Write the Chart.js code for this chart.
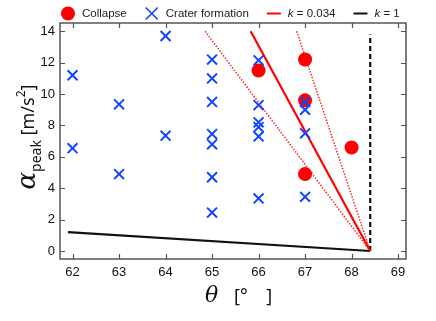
<!DOCTYPE html>
<html>
<head>
<meta charset="utf-8">
<script src="https://cdn.jsdelivr.net/npm/chart.js@4.4.0/dist/chart.umd.min.js"></script>
<style>
  html, body { margin: 0; padding: 0; background: #fff; }
  #wrap { width: 436px; height: 321px; }
</style>
</head>
<body>
<div id="wrap"><canvas id="chart"></canvas></div>
<script>
// Tick labels
const xTicks = [62, 63, 64, 65, 66, 67, 68, 69];
const yTicks = [0, 2, 4, 6, 8, 10, 12, 14];

// Collapse (red circles)
const collapseTheta = [66, 67, 67, 67, 68];
const collapseAccel = [11.5, 12.2, 9.6, 4.9, 6.6];

// Crater formation (blue crosses)
const craterTheta = [62, 62, 63, 63, 64, 64,
  65, 65, 65, 65, 65, 65, 65,
  66, 66, 66, 66, 66, 66,
  67, 67, 67, 67];
const craterAccel = [11.2, 6.55, 9.35, 4.9, 13.7, 7.35,
  12.2, 11.0, 9.5, 7.45, 6.8, 4.7, 2.45,
  12.15, 9.3, 8.2, 7.9, 7.3, 3.35,
  9.5, 9.0, 7.5, 3.45];

// Boundary lines
const kRedTheta = [65.83, 68.4];
const kRedAccel = [14, 0];
const dotUpperTheta = [66.82, 68.4];
const dotUpperAccel = [14, 0];
const dotLowerTheta = [64.85, 68.4];
const dotLowerAccel = [14, 0];
const kBlackTheta = [61.9, 68.4];
const kBlackAccel = [1.2, 0];
const limitTheta = [68.4, 68.4];
const limitAccel = [0, 13.8];

const RED = '#ff0000';
const BLUE = '#1046ff';

function pts(xs, ys) {
  return xs.map((x, i) => ({ x: x, y: ys[i] }));
}

// inward ticks + frame
const framePlugin = {
  id: 'frame',
  afterDraw(chart) {
    const ctx = chart.ctx;
    const a = chart.chartArea;
    const xs = chart.scales.x, ys = chart.scales.y;
    ctx.save();
    ctx.strokeStyle = '#555';
    ctx.lineWidth = 1.2;
    ctx.beginPath();
    xTicks.forEach(v => {
      const p = Math.round(xs.getPixelForValue(v)) + 0.5;
      ctx.moveTo(p, a.bottom); ctx.lineTo(p, a.bottom - 5);
      ctx.moveTo(p, a.top); ctx.lineTo(p, a.top + 5);
    });
    yTicks.forEach(v => {
      const p = Math.round(ys.getPixelForValue(v)) + 0.5;
      ctx.moveTo(a.left, p); ctx.lineTo(a.left + 5, p);
      ctx.moveTo(a.right, p); ctx.lineTo(a.right - 5, p);
    });
    ctx.stroke();
    ctx.lineWidth = 1.5;
    ctx.strokeRect(a.left, a.top, a.right - a.left, a.bottom - a.top);
    ctx.restore();
  }
};

// axis titles with sub/superscripts
const titlePlugin = {
  id: 'titles',
  afterDraw(chart) {
    const ctx = chart.ctx;
    ctx.save();
    ctx.fillStyle = '#111';
    ctx.textBaseline = 'alphabetic';

    // y title, rotated
    ctx.translate(35, 137);
    ctx.rotate(-Math.PI / 2);
    const fA = 'italic 26px "DejaVu Serif"';
    const fSub = '14px "Noto Sans"';
    const fU = '18px "Noto Sans"';
    const fSup = '12px "Noto Sans"';
    ctx.font = fA; const wA = ctx.measureText('α').width;
    ctx.font = fSub; const wS = ctx.measureText('peak').width;
    ctx.font = fU; const w1 = ctx.measureText(' [m/s').width;
    ctx.font = fSup; const w2 = ctx.measureText('2').width;
    ctx.font = fU; const w3 = ctx.measureText(']').width;
    let x = -(wA + wS + w1 + w2 + w3) / 2;
    ctx.font = fA; ctx.fillText('α', x, 0); x += wA;
    ctx.font = fSub; ctx.fillText('peak', x, 6); x += wS;
    ctx.font = fU; ctx.fillText(' [m/s', x, -1); x += w1;
    ctx.font = fSup; ctx.fillText('2', x, -10); x += w2;
    ctx.font = fU; ctx.fillText(']', x, -1);
    ctx.setTransform(1, 0, 0, 1, 0, 0);

    // x title
    ctx.font = 'italic 22px "DejaVu Serif"';
    ctx.fillText('θ', 205, 302);
    ctx.font = '18px "Noto Sans"';
    ctx.fillText('[°    ]', 234, 302);
    ctx.restore();
  }
};

// legend along the top
const legendPlugin = {
  id: 'topLegend',
  afterDraw(chart) {
    const ctx = chart.ctx;
    const y = 13.5;
    let x = 61;
    ctx.save();
    ctx.textBaseline = 'middle';
    chart.data.datasets.forEach(ds => {
      if (!ds.legendMark) return;
      if (ds.legendMark === 'circle') {
        ctx.fillStyle = ds.backgroundColor;
        ctx.beginPath(); ctx.arc(x + 7, y, 7, 0, Math.PI * 2); ctx.fill();
      } else if (ds.legendMark === 'cross') {
        ctx.strokeStyle = ds.borderColor; ctx.lineWidth = 1.6;
        ctx.beginPath();
        ctx.moveTo(x + 1, y - 6); ctx.lineTo(x + 13, y + 6);
        ctx.moveTo(x + 13, y - 6); ctx.lineTo(x + 1, y + 6);
        ctx.stroke();
      } else {
        ctx.strokeStyle = ds.borderColor; ctx.lineWidth = 2;
        ctx.beginPath(); ctx.moveTo(x, y); ctx.lineTo(x + 14, y); ctx.stroke();
      }
      x += 21;
      ctx.fillStyle = '#222';
      let label = ds.label;
      if (label.startsWith('k ')) {
        ctx.font = 'italic 11.5px "Liberation Sans"';
        ctx.fillText('k', x, y);
        x += ctx.measureText('k').width;
        label = label.slice(1);
      }
      ctx.font = '11.5px "Liberation Sans"';
      ctx.fillText(label, x, y);
      x += ctx.measureText(label).width + 18;
    });
    ctx.restore();
  }
};

new Chart(document.getElementById('chart'), {
  type: 'scatter',
  data: {
    datasets: [
      {
        label: 'Collapse', legendMark: 'circle', order: 1,
        data: pts(collapseTheta, collapseAccel),
        pointStyle: 'circle', pointRadius: 7, borderWidth: 0,
        backgroundColor: RED, borderColor: RED
      },
      {
        label: 'Crater formation', legendMark: 'cross', order: 0,
        data: pts(craterTheta, craterAccel),
        pointStyle: 'crossRot', pointRadius: 7, borderWidth: 2,
        borderColor: BLUE, backgroundColor: BLUE
      },
      {
        label: 'k = 0.034', legendMark: 'line', order: 2,
        data: pts(kRedTheta, kRedAccel), showLine: true,
        borderColor: RED, borderWidth: 2.2, pointRadius: 0
      },
      {
        label: 'k = 1', legendMark: 'line', order: 2,
        data: pts(kBlackTheta, kBlackAccel), showLine: true,
        borderColor: '#111', borderWidth: 2.2, pointRadius: 0
      },
      {
        label: 'upper', order: 3,
        data: pts(dotUpperTheta, dotUpperAccel), showLine: true,
        borderColor: 'rgba(255,0,0,0.85)', borderWidth: 1.5, borderDash: [1.5, 1.5], pointRadius: 0
      },
      {
        label: 'lower', order: 3,
        data: pts(dotLowerTheta, dotLowerAccel), showLine: true,
        borderColor: 'rgba(255,0,0,0.85)', borderWidth: 1.5, borderDash: [1.5, 1.5], pointRadius: 0
      },
      {
        label: 'limit', order: 3,
        data: pts(limitTheta, limitAccel), showLine: true,
        borderColor: '#111', borderWidth: 2.2, borderDash: [5, 3], pointRadius: 0
      }
    ]
  },
  options: {
    responsive: true,
    maintainAspectRatio: false,
    animation: false,
    layout: { padding: { top: 23, right: 30, left: 0, bottom: 0 } },
    plugins: { legend: { display: false }, tooltip: { enabled: false } },
    scales: {
      x: {
        type: 'linear', min: 61.73, max: 69.17,
        afterBuildTicks: s => { s.ticks = xTicks.map(v => ({ value: v })); },
        afterFit: s => { s.height = 62; },
        grid: { display: false, drawTicks: false },
        border: { display: false },
        ticks: { color: '#111', padding: 6, font: { size: 13, family: 'Liberation Sans' } }
      },
      y: {
        type: 'linear', min: -0.51, max: 14.53,
        afterBuildTicks: s => { s.ticks = yTicks.map(v => ({ value: v })); },
        afterFit: s => { s.width = 60; },
        grid: { display: false, drawTicks: false },
        border: { display: false },
        ticks: { color: '#111', padding: 5, font: { size: 13, family: 'Liberation Sans' } }
      }
    }
  },
  plugins: [framePlugin, titlePlugin, legendPlugin]
});
</script>
</body>
</html>
